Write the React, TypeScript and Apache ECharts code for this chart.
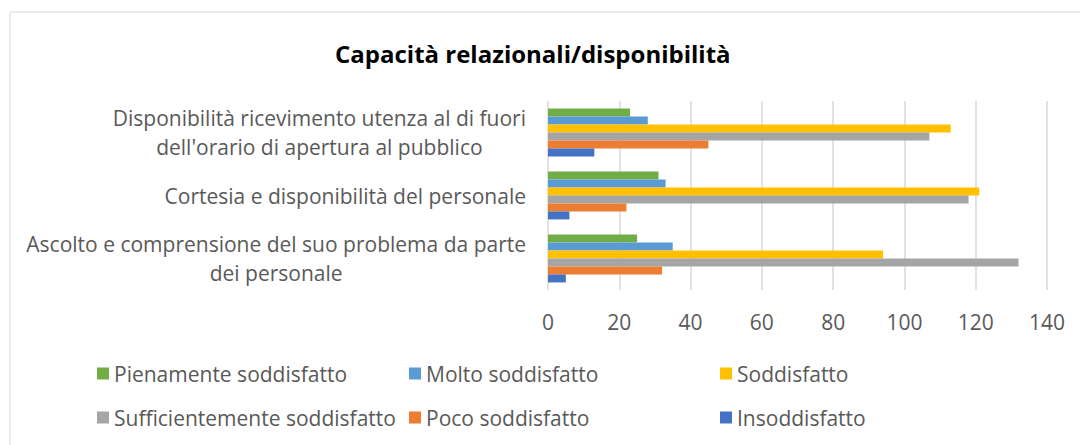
import React, { useEffect, useRef } from "react";
import * as echarts from "echarts";

const categories = [
  "Ascolto e comprensione del suo problema da parte\ndei personale",
  "Cortesia e disponibilità del personale",
  "Disponibilità ricevimento utenza al di fuori\ndell'orario di apertura al pubblico",
];
const seriesNames = [
  "Pienamente soddisfatto",
  "Molto soddisfatto",
  "Soddisfatto",
  "Sufficientemente soddisfatto",
  "Poco soddisfatto",
  "Insoddisfatto",
];
const pienamente = [25, 31, 23];
const molto = [35, 33, 28];
const soddisfatto = [94, 121, 113];
const sufficientemente = [132, 118, 107];
const poco = [32, 22, 45];
const insoddisfatto = [5, 6, 13];
const seriesValues = [pienamente, molto, soddisfatto, sufficientemente, poco, insoddisfatto];
const colors = ["#70AD47", "#5B9BD5", "#FFC000", "#A5A5A5", "#ED7D31", "#4472C4"];
const xTicks = { min: 0, max: 140, interval: 20 };

const FONT = "Open Sans";
const TXT = "#595959";
const FS = 21;

export default function App() {
  const ref = useRef<HTMLDivElement>(null);
  useEffect(() => {
    if (!ref.current) return;
    const chart = echarts.init(ref.current, null, { renderer: "svg" });
    const legendCols = [
      { left: 97, names: [seriesNames[0], seriesNames[3]] },
      { left: 409, names: [seriesNames[1], seriesNames[4]] },
      { left: 720, names: [seriesNames[2], seriesNames[5]] },
    ];
    chart.setOption({
      animation: false,
      backgroundColor: "#ffffff",
      title: {
        text: "Capacità relazionali/disponibilità",
        left: 330,
        top: 36,
        textStyle: { fontFamily: FONT, fontSize: 24, fontWeight: "bold", color: "#000" },
      },
      legend: legendCols.map((c) => ({
        data: c.names,
        orient: "vertical",
        left: c.left,
        top: 363,
        padding: 0,
        itemWidth: 12,
        itemHeight: 12,
        itemGap: 23,
        icon: "rect",
        textStyle: { fontFamily: FONT, fontSize: FS, color: TXT },
      })),
      grid: { left: 548, right: 33, top: 101, bottom: 155 },
      xAxis: {
        type: "value",
        min: xTicks.min,
        max: xTicks.max,
        interval: xTicks.interval,
        axisLine: { show: false },
        axisTick: { show: false },
        splitLine: { show: true, lineStyle: { color: "#d9d9d9", width: 1.5 } },
        axisLabel: { fontFamily: FONT, fontSize: FS, color: TXT, margin: 21 },
      },
      yAxis: {
        type: "category",
        data: categories,
        axisLine: { show: false },
        axisTick: { show: false },
        axisLabel: {
          margin: 22,
          align: "right",
          formatter: (v: string) => v.split("\n").map((l) => `{c|${l}}`).join("\n"),
          rich: { c: { align: "center", fontFamily: FONT, fontSize: FS, color: TXT, lineHeight: 29 } },
        },
      },
      series: seriesNames.map((name, i) => ({
        name,
        type: "bar",
        data: seriesValues[i],
        itemStyle: { color: colors[i] },
        barGap: "0%",
        barCategoryGap: "24%",
      })),
      graphic: [
        {
          type: "rect",
          shape: { x: 10, y: 12, width: 1200, height: 600 },
          style: { fill: "none", stroke: "#d9d9d9", lineWidth: 1 },
          silent: true,
        },
      ],
    });
    return () => chart.dispose();
  }, []);
  return <div ref={ref} style={{ position: "absolute", left: 0, top: 0, width: 1080, height: 445 }} />;
}
